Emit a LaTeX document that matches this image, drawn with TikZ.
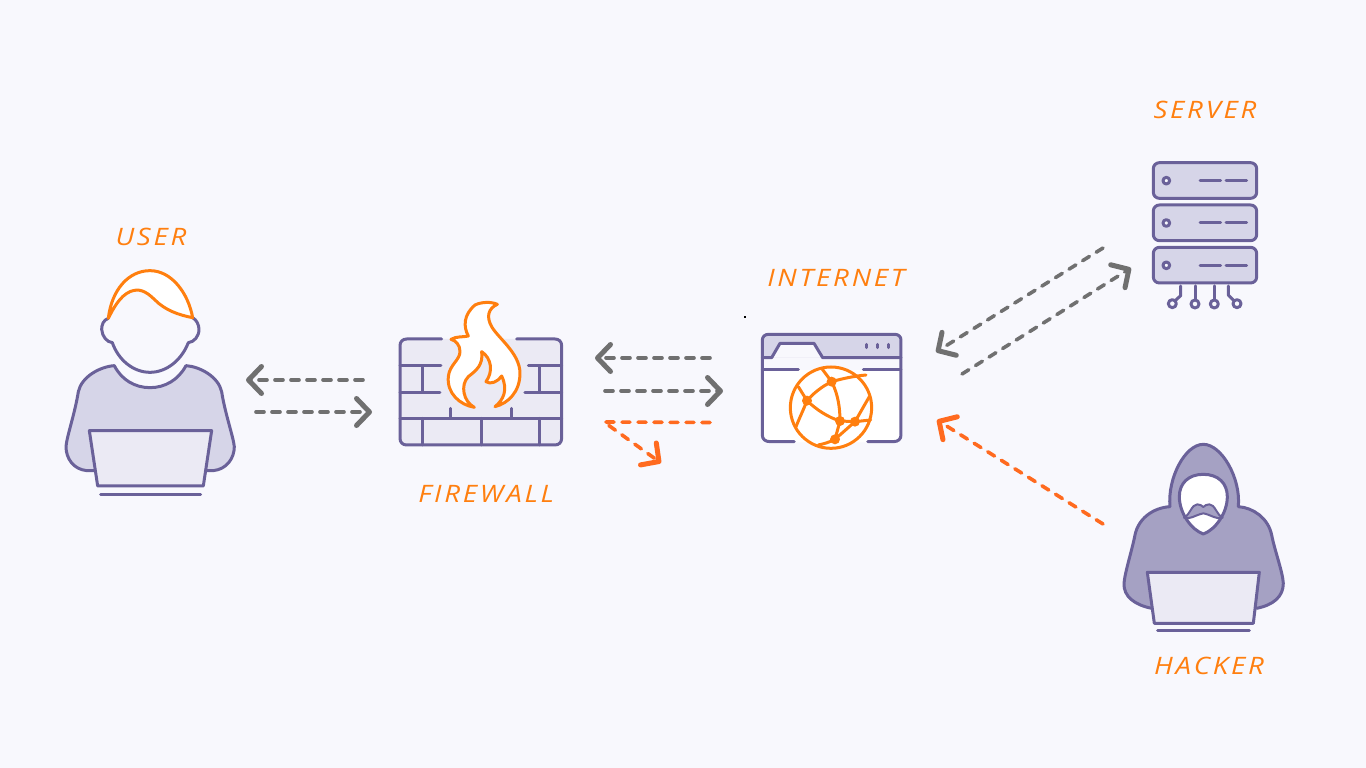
\documentclass[tikz,border=0pt]{standalone}
\usepackage{xcolor}
\usepackage{fontspec}
\usetikzlibrary{arrows.meta}
\newfontfamily\labelfont[LetterSpace=10]{Open Sans}
\definecolor{pagebg}{HTML}{F8F8FD}
\definecolor{iconline}{HTML}{6A6199}
\definecolor{iconfill}{HTML}{D6D5E8}
\definecolor{iconpale}{HTML}{EBEAF4}
\definecolor{hoodfill}{HTML}{A5A1C3}
\definecolor{flameline}{HTML}{FF7F0F}
\definecolor{linkgrey}{HTML}{707070}
\definecolor{linkred}{HTML}{FF6A1F}

\begin{document}
\begin{tikzpicture}[x=1pt, y=-1pt,
    icon/.style = {draw=iconline, line width=3pt, line join=round, line cap=round},
    flame/.style = {draw=flameline, line width=3pt, line join=round, line cap=round},
    tag/.style = {text=flameline, font=\labelfont\itshape\fontsize{24}{24}\selectfont, inner sep=0pt,
      xscale=1.15, transform shape},
    link/.style = {line width=3.6pt, line cap=round, dash pattern=on 8pt off 8pt,
      -{Straight Barb[length=13pt, width=27pt, line width=5pt, round]}},
    greylink/.style = {link, draw=linkgrey},
    redlink/.style = {link, draw=linkred}]

    \path[use as bounding box, fill=pagebg] (0,0) rectangle (1366,768);

    % user
    \begin{scope}[shift={(50,210)}, scale=0.3333]
      \draw[icon, fill=iconfill] (135,782) -- (110,782) .. controls (70,778) and (48,745) .. (48,710)
        .. controls (50,680) and (75,610) .. (85,545) .. controls (95,500) and (150,470) .. (193,467)
        .. controls (215,510) and (255,533) .. (300,533) .. controls (345,533) and (385,510) .. (408,467)
        .. controls (450,470) and (505,500) .. (515,545) .. controls (525,610) and (550,680) .. (553,710)
        .. controls (553,745) and (530,778) .. (490,782) -- (470,782);
      \draw[icon, fill=iconpale] (118,662) -- (485,662) -- (460,828) -- (143,828) -- cycle;
      \draw[icon] (152,853) -- (452,853);
      \draw[icon, fill=pagebg] (175,325) .. controls (160,330) and (155,345) .. (155,358)
        .. controls (157,380) and (170,396) .. (187,398) .. controls (205,450) and (250,487) .. (300,487)
        .. controls (350,487) and (395,450) .. (415,398) .. controls (432,396) and (447,380) .. (447,358)
        .. controls (447,345) and (440,330) .. (428,323);
      \draw[flame, fill=white] (175,325) .. controls (185,240) and (235,182) .. (300,182)
        .. controls (365,182) and (415,250) .. (428,323) .. controls (385,315) and (345,300) .. (315,270)
        .. controls (285,240) and (265,235) .. (240,245) .. controls (210,258) and (190,295) .. (175,325) -- cycle;
    \end{scope}
    \node[tag] (usertag) at (151,237) {USER};

    % firewall
    \begin{scope}[shift={(380,290)}, scale=0.3333]
      \fill[iconpale, rounded corners=6pt] (60,147) rectangle (545,465);
      \draw[icon] (185,147) -- (80,147) .. controls (68,147) and (60,155) .. (60,167) -- (60,445)
        .. controls (60,457) and (68,465) .. (80,465) -- (525,465) .. controls (537,465) and (545,457) .. (545,445)
        -- (545,167) .. controls (545,155) and (537,147) .. (525,147) -- (410,147);
      \draw[icon] (60,227) -- (183,227) (445,227) -- (545,227);
      \draw[icon] (60,307) -- (180,307) (435,307) -- (545,307);
      \draw[icon] (60,385) -- (545,385);
      \draw[icon] (128,227) -- (128,307) (480,227) -- (480,307);
      \draw[icon] (128,385) -- (128,465) (304,385) -- (304,465) (480,385) -- (480,465);
      \draw[icon] (212,355) -- (212,385) (396,355) -- (396,385);
      \draw[flame, fill=white] (283,352) .. controls (240,345) and (200,310) .. (205,260)
        .. controls (208,225) and (240,210) .. (240,185) .. controls (240,165) and (228,152) .. (213,148)
        .. controls (230,138) and (250,142) .. (265,138) .. controls (250,110) and (250,75) .. (285,45)
        .. controls (305,35) and (335,35) .. (352,43) .. controls (325,55) and (318,80) .. (335,110)
        .. controls (355,145) and (420,190) .. (420,250) .. controls (420,305) and (385,340) .. (345,350)
        .. controls (370,330) and (385,300) .. (365,258) .. controls (355,275) and (330,285) .. (318,275)
        .. controls (340,245) and (335,205) .. (305,185) .. controls (310,225) and (290,240) .. (265,260)
        .. controls (240,285) and (250,335) .. (283,352) -- cycle;
    \end{scope}
    \node[tag] (firewalltag) at (486,494) {FIREWALL};

    % internet
    \fill[black] (744,316) rectangle (745.5,318);
    \begin{scope}[shift={(740,310)}, scale=0.3333]
      \fill[white, rounded corners=6pt] (67,120) rectangle (483,397);
      \fill[pagebg] (67,143) rectangle (483,180);
      \fill[iconfill] (67,143) -- (67,90) .. controls (67,80) and (75,73) .. (85,73) -- (465,73)
        .. controls (475,73) and (483,80) .. (483,90) -- (483,143) -- cycle;
      \fill[pagebg] (95,143) -- (120,100) -- (222,100) -- (248,143) -- cycle;
      \draw[icon] (163,395) -- (90,395) .. controls (75,395) and (67,387) .. (67,375) -- (67,90)
        .. controls (67,80) and (75,73) .. (85,73) -- (465,73) .. controls (475,73) and (483,80) .. (483,90)
        -- (483,375) .. controls (483,387) and (475,395) .. (460,395) -- (383,395);
      \draw[icon] (67,143) -- (95,143) -- (120,100) -- (222,100) -- (248,143) -- (483,143);
      \draw[icon] (67,180) -- (175,180) (370,180) -- (483,180);
      \foreach \dotx in {381,414,447}
        \draw[icon] (\dotx,103) -- (\dotx,113);
      \draw[flame, fill=white] (273,293) circle[radius=122];
      \coordinate (g1) at (275,215);
      \coordinate (g2) at (201,272);
      \coordinate (g3) at (300,333);
      \coordinate (g4) at (345,335);
      \coordinate (g5) at (285,388);
      \foreach \g in {g1,g2,g3,g4,g5}
        \fill[flameline] (\g) circle[radius=15];
      \draw[flame] (245,175) -- (g1) .. controls (310,205) and (345,198) .. (378,195);
      \draw[flame] (g1) .. controls (245,230) and (220,250) .. (g2) -- (175,230);
      \draw[flame] (g2) .. controls (190,300) and (178,325) .. (168,350);
      \draw[flame] (g2) .. controls (230,300) and (265,322) .. (g3);
      \draw[flame] (g1) .. controls (295,255) and (300,295) .. (g3) -- (g5);
      \draw[flame] (388,260) -- (g4) -- (392,330);
      \draw[flame] (g3) -- (g4) -- (g5);
      \draw[flame] (g5) .. controls (265,398) and (250,402) .. (235,405);
    \end{scope}
    \node[tag] (internettag) at (836,278) {INTERNET};

    % server
    \begin{scope}[shift={(1130,150)}, scale=0.3333]
      \foreach \racktop in {38,165,292} {
        \draw[icon, fill=iconfill, rounded corners=6pt] (70,\racktop) rectangle (380,\racktop+107);
        \draw[icon, fill=pagebg] (109,\racktop+54) circle[radius=10];
        \draw[icon] (210,\racktop+54) -- (272,\racktop+54) (288,\racktop+54) -- (350,\racktop+54);
      }
      \draw[icon] (152,408) -- (152,437) -- (132,455);
      \draw[icon] (195,408) -- (195,450);
      \draw[icon] (253,408) -- (253,450);
      \draw[icon] (295,408) -- (295,435) -- (315,455);
      \draw[icon, fill=pagebg] (127,461) circle[radius=12];
      \draw[icon, fill=pagebg] (195,462) circle[radius=12];
      \draw[icon, fill=pagebg] (253,462) circle[radius=12];
      \draw[icon, fill=pagebg] (321,461) circle[radius=12];
    \end{scope}
    \node[tag] (servertag) at (1205,110) {SERVER};

    % hacker
    \begin{scope}[shift={(1110,435)}, scale=0.3333]
      \draw[icon, fill=hoodfill] (125,520) .. controls (75,510) and (40,485) .. (42,445)
        .. controls (45,410) and (65,350) .. (75,300) .. controls (85,250) and (130,218) .. (180,215)
        .. controls (172,130) and (225,28) .. (280,28) .. controls (335,28) and (393,130) .. (385,215)
        .. controls (430,218) and (475,250) .. (485,300) .. controls (495,350) and (518,410) .. (520,445)
        .. controls (520,485) and (490,510) .. (440,520);
      \draw[icon, fill=iconpale] (112,412) -- (448,412) -- (430,565) -- (133,565) -- cycle;
      \draw[icon] (143,587) -- (418,587);
      \draw[icon, fill=white] (280,118) .. controls (235,118) and (208,145) .. (208,185)
        .. controls (208,235) and (245,285) .. (280,297) .. controls (315,285) and (352,235) .. (352,185)
        .. controls (352,145) and (325,118) .. (280,118) -- cycle;
      \draw[icon, line width=2pt, fill=hoodfill] (222,248) .. controls (240,240) and (245,208) .. (262,208)
        .. controls (270,208) and (276,212) .. (280,216) .. controls (284,212) and (290,208) .. (298,208)
        .. controls (315,208) and (320,240) .. (338,248) .. controls (320,255) and (305,240) .. (280,235)
        .. controls (255,240) and (240,255) .. (222,248) -- cycle;
    \end{scope}
    \node[tag] (hackertag) at (1209,666) {HACKER};

    \coordinate (userin) at (246,380);
    \coordinate (walluser) at (363,380);
    \coordinate (userout) at (256,412);
    \coordinate (wallin) at (372,412);
    \coordinate (wallback) at (595,358);
    \coordinate (netback) at (710,358);
    \coordinate (wallout) at (605,391);
    \coordinate (netin) at (723,391);
    \coordinate (netattack) at (710,422.5);
    \coordinate (wallhit) at (604,422);
    \coordinate (blocked) at (661,463);
    \coordinate (netreply) at (936,352);
    \coordinate (srvreply) at (1103,248);
    \coordinate (netask) at (962,374);
    \coordinate (srvask) at (1131,268);
    \coordinate (netbad) at (937,420);
    \coordinate (hackout) at (1103,524);

    \draw[greylink] (walluser) -- (userin);
    \draw[greylink] (userout) -- (wallin);
    \draw[greylink] (netback) -- (wallback);
    \draw[greylink] (wallout) -- (netin);
    \draw[redlink] (netattack) -- (wallhit) -- (blocked);
    \draw[greylink] (srvreply) -- (netreply);
    \draw[greylink] (netask) -- (srvask);
    \draw[redlink] (hackout) -- (netbad);
\end{tikzpicture}
\end{document}
